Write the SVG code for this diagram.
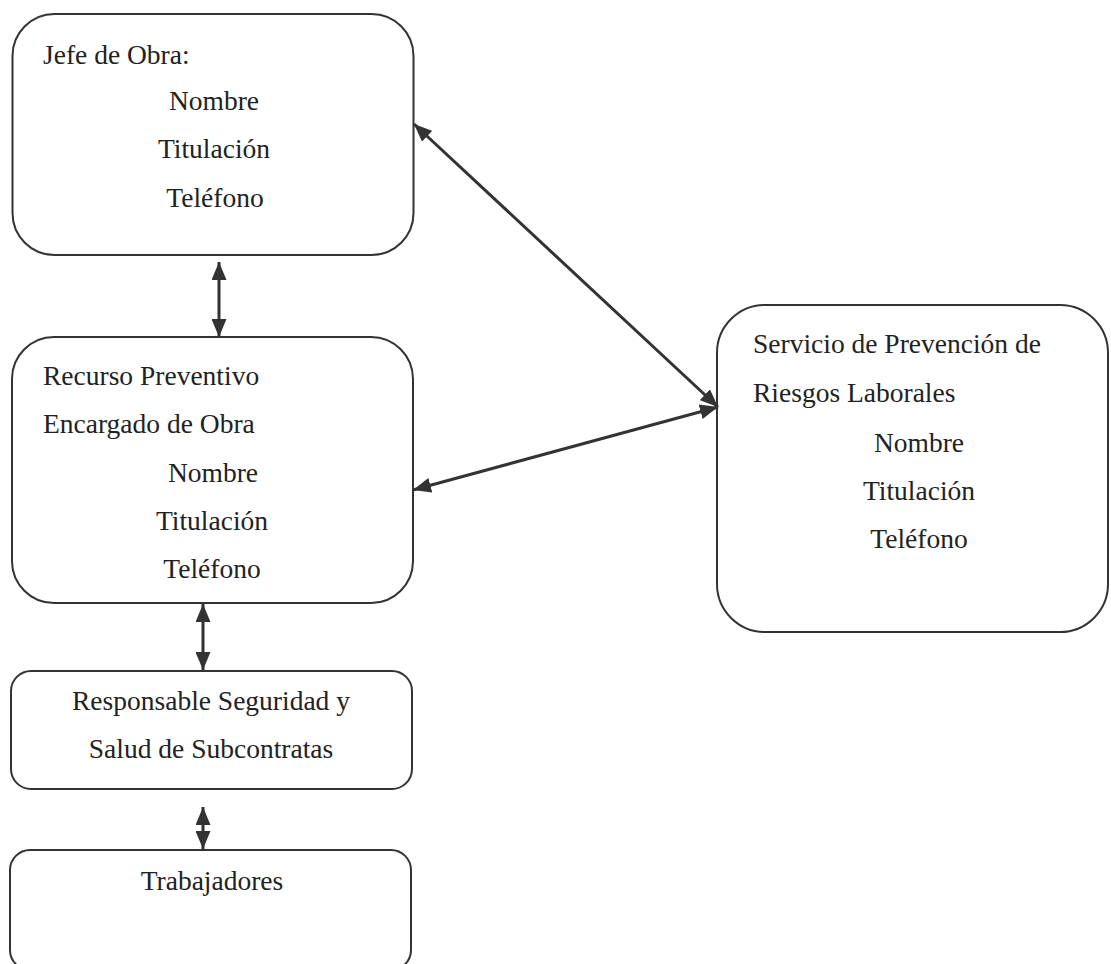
<svg xmlns="http://www.w3.org/2000/svg" width="1111" height="964" viewBox="0 0 1111 964">
<defs>
<style>
.box{fill:none;stroke:#333;stroke-width:2}
.t{font-family:"Liberation Serif","Times New Roman",serif;font-size:27.5px;fill:#222}
.c{text-anchor:middle}
.con{stroke:#333;stroke-width:3;fill:none}
</style>
<marker id="ah" viewBox="0 0 18 15" refX="18" refY="7.5" markerWidth="18" markerHeight="15" markerUnits="userSpaceOnUse" orient="auto-start-reverse">
<path d="M0,0 L18,7.5 L0,15 Z" fill="#333"/>
</marker>
</defs>
<rect width="1111" height="964" fill="#fff"/>
<g id="jefe">
<rect class="box" x="12.5" y="14" width="401" height="241" rx="42"/>
<text class="t" x="43" y="64">Jefe de Obra:</text>
<text class="t c" x="214" y="110">Nombre</text>
<text class="t c" x="214" y="158">Titulación</text>
<text class="t c" x="215" y="207">Teléfono</text>
</g>
<g id="recurso">
<rect class="box" x="12" y="337" width="401" height="266" rx="42"/>
<text class="t" x="43" y="385">Recurso Preventivo</text>
<text class="t" x="43" y="433">Encargado de Obra</text>
<text class="t c" x="213" y="482">Nombre</text>
<text class="t c" x="212" y="530">Titulación</text>
<text class="t c" x="212" y="578">Teléfono</text>
</g>
<g id="responsable">
<rect class="box" x="11" y="671" width="401" height="118" rx="20"/>
<text class="t c" x="211" y="710">Responsable Seguridad y</text>
<text class="t c" x="211" y="758">Salud de Subcontratas</text>
</g>
<g id="trabajadores">
<rect class="box" x="10" y="850" width="401" height="120" rx="20"/>
<text class="t c" x="212" y="890">Trabajadores</text>
</g>
<g id="servicio">
<rect class="box" x="717" y="305" width="391" height="327" rx="48"/>
<text class="t" x="753" y="353">Servicio de Prevención de</text>
<text class="t" x="753" y="402">Riesgos Laborales</text>
<text class="t c" x="919" y="452">Nombre</text>
<text class="t c" x="919" y="500">Titulación</text>
<text class="t c" x="919" y="548">Teléfono</text>
</g>
<g id="connectors">
<line class="con" x1="219" y1="262" x2="219" y2="337" marker-start="url(#ah)" marker-end="url(#ah)"/>
<line class="con" x1="203" y1="604" x2="203" y2="670" marker-start="url(#ah)" marker-end="url(#ah)"/>
<line class="con" x1="203" y1="807" x2="203" y2="849" marker-start="url(#ah)" marker-end="url(#ah)"/>
<line class="con" x1="414" y1="124" x2="718" y2="407" marker-start="url(#ah)" marker-end="url(#ah)"/>
<line class="con" x1="718" y1="407" x2="413" y2="490" marker-start="url(#ah)" marker-end="url(#ah)"/>
</g>
</svg>
